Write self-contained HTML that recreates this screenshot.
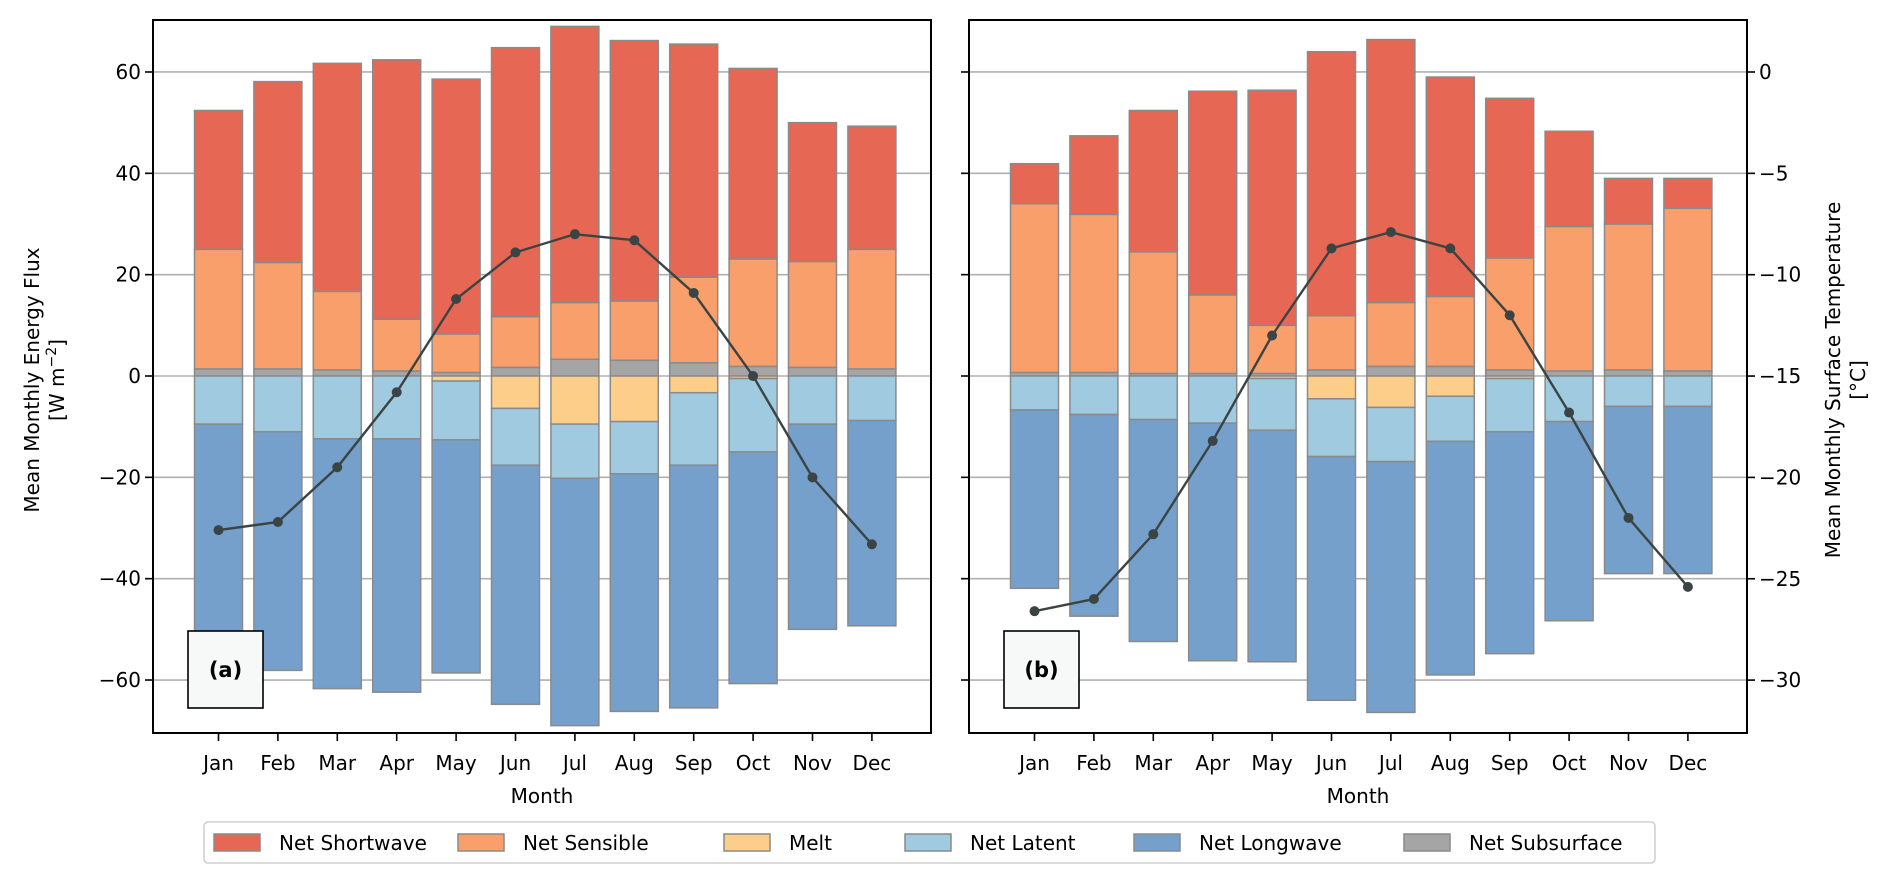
<!DOCTYPE html>
<html><head><meta charset="utf-8"><style>
body{margin:0;background:#fff;}
svg{display:block;font-family:"DejaVu Sans","Liberation Sans",sans-serif;}
</style></head><body>
<svg id="chart" width="1892" height="885" viewBox="0 0 1892 885" xmlns="http://www.w3.org/2000/svg"></svg>
<script>
const months = ["Jan","Feb","Mar","Apr","May","Jun","Jul","Aug","Sep","Oct","Nov","Dec"];
const fluxTicks = [60,40,20,0,-20,-40,-60];
const tempTicks = [0,-5,-10,-15,-20,-25,-30];
// panel (a)
const subA = [1.4,1.4,1.2,1.0,0.7,1.7,3.3,3.1,2.6,1.9,1.7,1.4];
const sensA = [23.6,21.0,15.5,10.2,7.6,10.0,11.2,11.7,16.9,21.2,20.9,23.6];
const swA = [27.4,35.7,45.0,51.2,50.3,53.1,54.5,51.4,46.0,37.6,27.4,24.3];
const meltA = [0,0,0,0,-1.0,-6.4,-9.5,-9.0,-3.3,-0.5,0,0];
const latA = [-9.5,-11.0,-12.4,-12.4,-11.6,-11.2,-10.7,-10.3,-14.3,-14.5,-9.5,-8.8];
const lwA = [-42.9,-47.1,-49.3,-50.0,-46.0,-47.2,-48.8,-46.9,-47.9,-45.7,-40.5,-40.5];
const tempA = [-22.6,-22.2,-19.5,-15.8,-11.2,-8.9,-8.0,-8.3,-10.9,-15.0,-20.0,-23.3];
// panel (b)
const subB = [0.7,0.7,0.5,0.5,0.5,1.2,1.9,1.9,1.2,1.0,1.2,1.0];
const sensB = [33.3,31.2,24.0,15.5,9.5,10.7,12.6,13.8,22.1,28.5,28.8,32.1];
const swB = [7.9,15.5,27.9,40.2,46.4,52.1,51.9,43.3,31.5,18.8,9.0,5.9];
const meltB = [0,0,0,0,-0.5,-4.5,-6.2,-4.0,-0.5,0,0,0];
const latB = [-6.7,-7.6,-8.6,-9.3,-10.2,-11.4,-10.7,-8.9,-10.5,-9.0,-6.0,-6.0];
const lwB = [-35.2,-39.8,-43.8,-46.9,-45.7,-48.1,-49.5,-46.1,-43.8,-39.3,-33.0,-33.0];
const tempB = [-26.6,-26.0,-22.8,-18.2,-13.0,-8.7,-7.9,-8.7,-12.0,-16.8,-22.0,-25.4];

const NS="http://www.w3.org/2000/svg";
const svg=document.getElementById('chart');
function mk(tag,attrs,parent){const e=document.createElementNS(NS,tag);for(const k in attrs)e.setAttribute(k,attrs[k]);(parent||svg).appendChild(e);return e;}
const COL={sw:"#e66754",sens:"#f99f6b",melt:"#fdce8a",lat:"#9fcae0",lw:"#74a0cb",sub:"#a5a5a5"};
const TOP=20,BOT=733;
const yF=v=>376-v*5.067;
const yT=t=>72-t*20.27;

function panel(x0,label,sub,sens,sw,melt,lat,lw,temp,leftLabels,rightAxis){
  const x1=x0+778;
  const xM=i=>x0+65.5+i*59.4;
  const g=mk('g',{});
  
  
  fluxTicks.forEach(t=>{
    const l=mk('line',{x1:x0,x2:x1,y1:yF(t),y2:yF(t),stroke:"#b0b0b0","stroke-width":1.6},g);
    
    
  });
  const segs=[["sub",sub,"pos"],["sens",sens,"pos"],["sw",sw,"pos"],["melt",melt,"neg"],["lat",lat,"neg"],["lw",lw,"neg"]];
  for(let i=0;i<12;i++){
    let pos=0,neg=0;
    segs.forEach(([k,arr,d])=>{
      const v=arr[i]; if(!v)return;
      let a,b;
      if(d==="pos"){a=pos;b=pos+v;pos=b;}else{a=neg;b=neg+v;neg=b;}
      const ya=yF(a),yb=yF(b);
      const r=mk('rect',{x:xM(i)-24,width:48,y:Math.min(ya,yb),height:Math.abs(ya-yb),fill:COL[k],stroke:"#8a8a8a","stroke-width":1.5},g);
      
      
    });
  }
  const pts=temp.map((t,i)=>xM(i)+","+yT(t)).join(" ");
  const pl=mk('polyline',{points:pts,fill:"none",stroke:"#3b4444","stroke-width":2.4},g);
  
  
  temp.forEach((t,i)=>{
    const c=mk('circle',{cx:xM(i),cy:yT(t),r:5,fill:"#3b4444"},g);
    
    
  });
  const bx=x0+35,by=631;
  const box=mk('rect',{x:bx,y:by,width:75,height:77,fill:"#f7f8f8",stroke:"#000","stroke-width":1.6},g);
  
  
  const bt=mk('text',{x:bx+37.5,y:by+46,"text-anchor":"middle","font-size":21,"font-weight":"bold"},g);
  bt.textContent="("+label+")";
  
  
  const fr=mk('rect',{x:x0,y:TOP,width:778,height:BOT-TOP,fill:"none",stroke:"#000","stroke-width":2},g);
  
  
  fluxTicks.forEach(t=>{
    mk('line',{x1:x0-8,x2:x0,y1:yF(t),y2:yF(t),stroke:"#000","stroke-width":1.6},g);
    if(leftLabels){
      const tx=mk('text',{x:x0-12,y:yF(t)+7,"text-anchor":"end","font-size":20},g);
      tx.textContent=(t<0?"\u2212"+(-t):t);
      
      
    }
  });
  if(rightAxis){
    tempTicks.forEach(t=>{
      mk('line',{x1:x1,x2:x1+8,y1:yT(t),y2:yT(t),stroke:"#000","stroke-width":1.6},g);
      const tx=mk('text',{x:x1+12,y:yT(t)+7,"font-size":20},g);
      tx.textContent=(t<0?"\u2212"+(-t):t);
      
      
    });
  }
  months.forEach((m,i)=>{
    mk('line',{x1:xM(i),x2:xM(i),y1:BOT,y2:BOT+8,stroke:"#000","stroke-width":1.6},g);
    const tx=mk('text',{x:xM(i),y:BOT+37,"text-anchor":"middle","font-size":20},g);
    tx.textContent=m;
    
    
  });
  const xl=mk('text',{x:x0+389,y:803,"text-anchor":"middle","font-size":20},g);
  xl.textContent="Month";
  
  
}
panel(153,"a",subA,sensA,swA,meltA,latA,lwA,tempA,true,false);
panel(969,"b",subB,sensB,swB,meltB,latB,lwB,tempB,false,true);

const yl=mk('text',{transform:"translate(39,380) rotate(-90)","text-anchor":"middle","font-size":20});


yl.innerHTML='<tspan x="0" dy="0">Mean Monthly Energy Flux</tspan><tspan x="0" dy="25">[W m<tspan dy="-8" font-size="14">\u22122</tspan><tspan dy="8">]</tspan></tspan>';
const yr=mk('text',{transform:"translate(1840,380) rotate(-90)","text-anchor":"middle","font-size":20});


yr.innerHTML='<tspan x="0" dy="0">Mean Monthly Surface Temperature</tspan><tspan x="0" dy="25">[\u00b0C]</tspan>';

const lg=mk('g',{});


mk('rect',{x:204,y:822,width:1451,height:41,rx:4,fill:"#fff",stroke:"#d0d0d0","stroke-width":1.6},lg);
const legNames=["Net Shortwave","Net Sensible","Melt","Net Latent","Net Longwave","Net Subsurface"];
const legKeys=["sw","sens","melt","lat","lw","sub"];
const legX=[214,458,724,905,1134,1404];
legNames.forEach((n,i)=>{
  const r=mk('rect',{x:legX[i],y:834,width:46,height:17,fill:COL[legKeys[i]],stroke:"#8a8a8a","stroke-width":1.5},lg);
  
  
  const t=mk('text',{x:legX[i]+65,y:850,"font-size":20},lg);
  t.textContent=n;
  
  
});
</script>
</body></html>
